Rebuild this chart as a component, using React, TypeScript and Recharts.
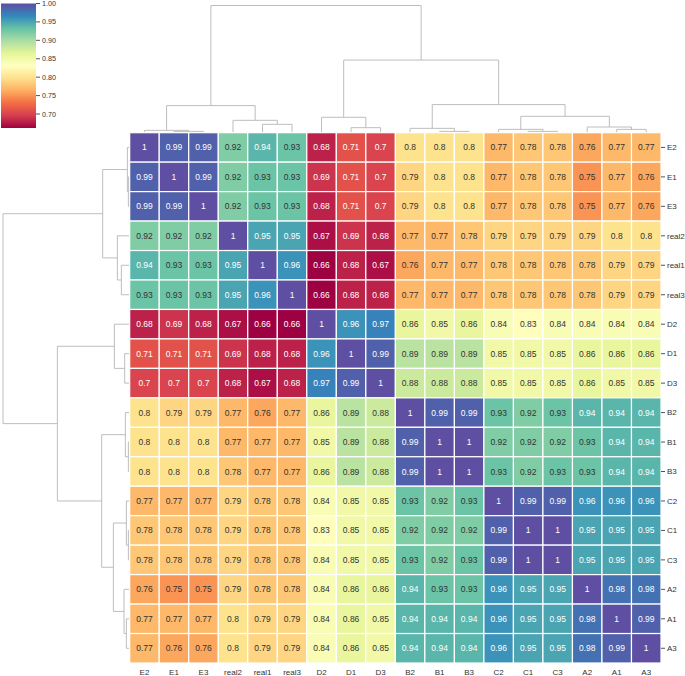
import React from 'react';
import { ScatterChart, Scatter, XAxis, YAxis, ReferenceArea } from 'recharts';

const labels = ['E2', 'E1', 'E3', 'real2', 'real1', 'real3', 'D2', 'D1', 'D3', 'B2', 'B1', 'B3', 'C2', 'C1', 'C3', 'A2', 'A1', 'A3'];

const rowE2 = [1, 0.99, 0.99, 0.92, 0.94, 0.93, 0.68, 0.71, 0.7, 0.8, 0.8, 0.8, 0.77, 0.78, 0.78, 0.76, 0.77, 0.77];
const rowE1 = [0.99, 1, 0.99, 0.92, 0.93, 0.93, 0.69, 0.71, 0.7, 0.79, 0.8, 0.8, 0.77, 0.78, 0.78, 0.75, 0.77, 0.76];
const rowE3 = [0.99, 0.99, 1, 0.92, 0.93, 0.93, 0.68, 0.71, 0.7, 0.79, 0.8, 0.8, 0.77, 0.78, 0.78, 0.75, 0.77, 0.76];
const rowReal2 = [0.92, 0.92, 0.92, 1, 0.95, 0.95, 0.67, 0.69, 0.68, 0.77, 0.77, 0.78, 0.79, 0.79, 0.79, 0.79, 0.8, 0.8];
const rowReal1 = [0.94, 0.93, 0.93, 0.95, 1, 0.96, 0.66, 0.68, 0.67, 0.76, 0.77, 0.77, 0.78, 0.78, 0.78, 0.78, 0.79, 0.79];
const rowReal3 = [0.93, 0.93, 0.93, 0.95, 0.96, 1, 0.66, 0.68, 0.68, 0.77, 0.77, 0.77, 0.78, 0.78, 0.78, 0.78, 0.79, 0.79];
const rowD2 = [0.68, 0.69, 0.68, 0.67, 0.66, 0.66, 1, 0.96, 0.97, 0.86, 0.85, 0.86, 0.84, 0.83, 0.84, 0.84, 0.84, 0.84];
const rowD1 = [0.71, 0.71, 0.71, 0.69, 0.68, 0.68, 0.96, 1, 0.99, 0.89, 0.89, 0.89, 0.85, 0.85, 0.85, 0.86, 0.86, 0.86];
const rowD3 = [0.7, 0.7, 0.7, 0.68, 0.67, 0.68, 0.97, 0.99, 1, 0.88, 0.88, 0.88, 0.85, 0.85, 0.85, 0.86, 0.85, 0.85];
const rowB2 = [0.8, 0.79, 0.79, 0.77, 0.76, 0.77, 0.86, 0.89, 0.88, 1, 0.99, 0.99, 0.93, 0.92, 0.93, 0.94, 0.94, 0.94];
const rowB1 = [0.8, 0.8, 0.8, 0.77, 0.77, 0.77, 0.85, 0.89, 0.88, 0.99, 1, 1, 0.92, 0.92, 0.92, 0.93, 0.94, 0.94];
const rowB3 = [0.8, 0.8, 0.8, 0.78, 0.77, 0.77, 0.86, 0.89, 0.88, 0.99, 1, 1, 0.93, 0.92, 0.93, 0.93, 0.94, 0.94];
const rowC2 = [0.77, 0.77, 0.77, 0.79, 0.78, 0.78, 0.84, 0.85, 0.85, 0.93, 0.92, 0.93, 1, 0.99, 0.99, 0.96, 0.96, 0.96];
const rowC1 = [0.78, 0.78, 0.78, 0.79, 0.78, 0.78, 0.83, 0.85, 0.85, 0.92, 0.92, 0.92, 0.99, 1, 1, 0.95, 0.95, 0.95];
const rowC3 = [0.78, 0.78, 0.78, 0.79, 0.78, 0.78, 0.84, 0.85, 0.85, 0.93, 0.92, 0.93, 0.99, 1, 1, 0.95, 0.95, 0.95];
const rowA2 = [0.76, 0.75, 0.75, 0.79, 0.78, 0.78, 0.84, 0.86, 0.86, 0.94, 0.93, 0.93, 0.96, 0.95, 0.95, 1, 0.98, 0.98];
const rowA1 = [0.77, 0.77, 0.77, 0.8, 0.79, 0.79, 0.84, 0.86, 0.85, 0.94, 0.94, 0.94, 0.96, 0.95, 0.95, 0.98, 1, 0.99];
const rowA3 = [0.77, 0.76, 0.76, 0.8, 0.79, 0.79, 0.84, 0.86, 0.85, 0.94, 0.94, 0.94, 0.96, 0.95, 0.95, 0.98, 0.99, 1];

const matrix = [rowE2, rowE1, rowE3, rowReal2, rowReal1, rowReal3, rowD2, rowD1, rowD3, rowB2, rowB1, rowB3, rowC2, rowC1, rowC3, rowA2, rowA1, rowA3];

// linkage, scipy style: [left node, right node, merge height]; new nodes get ids 18, 19, ...
const links: [number, number, number][] = [
  [1, 2, 4], [0, 18, 7], [4, 5, 25], [3, 20, 37], [19, 21, 81],
  [7, 8, 15], [6, 23, 46], [10, 11, 4], [9, 25, 13], [13, 14, 4],
  [12, 27, 10], [16, 17, 10], [15, 29, 17], [28, 30, 49], [26, 31, 84],
  [24, 32, 217], [22, 33, 380],
];
const rootHeight = 380;

const colorbarTicks = [0.7, 0.75, 0.8, 0.85, 0.9, 0.95, 1.0];
const VMIN = 0.662;
const VMAX = 1.0;

// layout
const W = 685;
const H = 676;
const HM_LEFT = 129.7;
const HM_RIGHT = 661;
const HM_TOP = 132.7;
const HM_BOTTOM = 663;
const N = labels.length;
const CW = (HM_RIGHT - HM_LEFT) / N;
const CH = (HM_BOTTOM - HM_TOP) / N;
const TOP_SPAN = (HM_TOP - 5.5) / CH;
const LEFT_SPAN = (HM_LEFT - 3) / CW;
const FONT = '"Liberation Sans", Arial, sans-serif';

const SPECTRAL = [
  [0.6196, 0.0039, 0.2588], [0.8353, 0.2431, 0.3098], [0.9569, 0.4275, 0.2627],
  [0.9922, 0.6824, 0.3804], [0.9961, 0.8784, 0.5451], [1.0, 1.0, 0.749],
  [0.902, 0.9608, 0.5961], [0.6706, 0.8667, 0.6431], [0.4, 0.7608, 0.6471],
  [0.1961, 0.5333, 0.7412], [0.3686, 0.3098, 0.6353],
];

function spectralRgb(v: number): number[] {
  const t = Math.min(1, Math.max(0, (v - VMIN) / (VMAX - VMIN))) * 10;
  const i = Math.min(9, Math.floor(t));
  const f = t - i;
  return SPECTRAL[i].map((c, k) => c + f * (SPECTRAL[i + 1][k] - c));
}

const toHex = (rgb: number[]) =>
  '#' + rgb.map((c) => Math.round(c * 255).toString(16).padStart(2, '0')).join('');

function textColor(rgb: number[]) {
  const lin = rgb.map((c) => (c <= 0.03928 ? c / 12.92 : Math.pow((c + 0.055) / 1.055, 2.4)));
  const l = 0.2126 * lin[0] + 0.7152 * lin[1] + 0.0722 * lin[2];
  return l > 0.408 ? '#333333' : '#ffffff';
}

const fmt = (v: number) => String(Number(v.toPrecision(2)));

const cells = matrix.flatMap((row, i) => row.map((v, j) => ({ x: j + 0.5, y: i + 0.5, v })));

function dendroSegments() {
  const pos = labels.map((_, i) => i + 0.5);
  const hgt = labels.map(() => 0);
  return links.map(([a, b, h]) => {
    const seg = [[pos[a], hgt[a]], [pos[a], h], [pos[b], h], [pos[b], hgt[b]]];
    pos.push((pos[a] + pos[b]) / 2);
    hgt.push(h);
    return seg;
  });
}

const segments = dendroSegments();
const topTree = segments.map((s) => s.map(([p, h]) => ({ x: p, y: (-h / rootHeight) * TOP_SPAN })));
const leftTree = segments.map((s) => s.map(([p, h]) => ({ x: (-h / rootHeight) * LEFT_SPAN, y: p })));

const tickPositions = labels.map((_, i) => i + 0.5);
const tickName = (v: number) => labels[Math.floor(v)] ?? '';

const HeatCell = (props: any) => {
  const { cx, cy, payload } = props;
  const rgb = spectralRgb(payload.v);
  return (
    <g>
      <rect x={cx - CW / 2} y={cy - CH / 2} width={CW} height={CH} fill={toHex(rgb)} stroke="#ffffff" strokeWidth={1.2} />
      <text x={cx} y={cy} textAnchor="middle" dominantBaseline="central" fontSize={8.5} fontFamily={FONT} fill={textColor(rgb)}>
        {fmt(payload.v)}
      </text>
    </g>
  );
};

const NoDot = () => <g />;

const App: React.FC = () => {
  return (
    <div style={{ position: 'absolute', left: 0, top: 0, width: W, height: H, fontFamily: FONT, background: '#fff' }}>
      <ScatterChart width={W} height={H} margin={{ top: 0, right: 0, bottom: 0, left: 0 }}>
        <XAxis
          type="number"
          dataKey="x"
          domain={[-HM_LEFT / CW, N]}
          allowDataOverflow
          ticks={tickPositions}
          interval={0}
          tickFormatter={tickName}
          height={H - HM_BOTTOM}
          axisLine={false}
          tickLine={false}
          tickSize={2}
          tickMargin={4}
          tick={{ fontSize: 8, fill: '#333333', fontFamily: FONT }}
        />
        <YAxis
          type="number"
          dataKey="y"
          orientation="right"
          reversed
          domain={[-HM_TOP / CH, N]}
          allowDataOverflow
          ticks={tickPositions}
          interval={0}
          tickFormatter={tickName}
          width={W - HM_RIGHT}
          axisLine={false}
          tickLine={{ stroke: '#555555' }}
          tickSize={4}
          tickMargin={2}
          tick={{ fontSize: 8, fill: '#333333', fontFamily: FONT }}
        />
        {topTree.map((pts, k) => (
          <Scatter key={`t${k}`} data={pts} line={{ stroke: '#bdbdbd', strokeWidth: 1 }} shape={NoDot} isAnimationActive={false} />
        ))}
        {leftTree.map((pts, k) => (
          <Scatter key={`l${k}`} data={pts} line={{ stroke: '#bdbdbd', strokeWidth: 1 }} shape={NoDot} isAnimationActive={false} />
        ))}
        <Scatter data={cells} shape={HeatCell} isAnimationActive={false} />
      </ScatterChart>
      <div style={{ position: 'absolute', left: 0, top: 0 }}>
        <ScatterChart width={61} height={135} margin={{ top: 3.5, right: 0, bottom: 7, left: 1 }}>
          <defs>
            <linearGradient id="spectralBar" x1="0" y1="0" x2="0" y2="1">
              {SPECTRAL.map((_, i) => (
                <stop key={i} offset={`${i * 10}%`} stopColor={toHex(SPECTRAL[10 - i])} />
              ))}
            </linearGradient>
          </defs>
          <XAxis type="number" dataKey="x" domain={[0, 1]} hide />
          <YAxis
            type="number"
            dataKey="y"
            orientation="right"
            domain={[VMIN, VMAX]}
            allowDataOverflow
            ticks={colorbarTicks}
            interval={0}
            tickFormatter={(v: number) => v.toFixed(2)}
            width={25}
            axisLine={false}
            tickLine={{ stroke: '#555555' }}
            tickSize={4}
            tickMargin={2}
            tick={{ fontSize: 7.2, fill: '#333333', fontFamily: FONT }}
          />
          <Scatter data={[{ x: 0, y: VMIN }, { x: 1, y: VMAX }]} shape={NoDot} isAnimationActive={false} />
          <ReferenceArea x1={0} x2={1} y1={VMIN} y2={VMAX} fill="url(#spectralBar)" fillOpacity={1} stroke="none" />
        </ScatterChart>
      </div>
    </div>
  );
};

export default App;
